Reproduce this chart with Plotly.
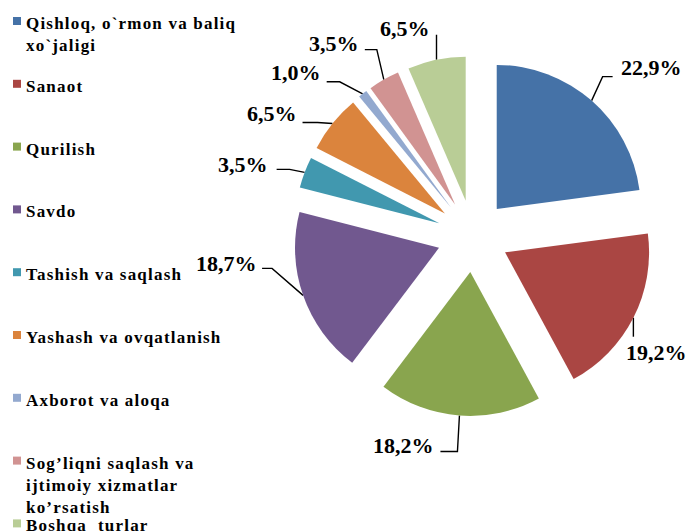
import numpy as np
import plotly.graph_objects as go

W, H = 691, 531
SERIF = "Liberation Serif, Times New Roman, serif"

# data
labels = ["Qishloq, o`rmon va baliq<br>xo`jaligi", "Sanaot", "Qurilish", "Savdo",
          "Tashish va saqlash", "Yashash va ovqatlanish", "Axborot va aloqa",
          "Sog’liqni saqlash va<br>ijtimoiy xizmatlar<br>ko’rsatish", "Boshqa  turlar"]
values = [22.9, 19.2, 18.2, 18.7, 3.5, 6.5, 1.0, 3.5, 6.5]
colors = ["#4572A7", "#AA4643", "#89A54E", "#71588F", "#4198AF",
          "#DB843D", "#93A9CF", "#D19392", "#B9CD96"]

# pie placement in pixels
cx, cy, R, pull = 473, 236, 144, 0.25

# label layout (px, relative to the slice edge): elbow, horizontal run, text centre
elbows = [(11, -24), (0, 19), (-2, 36), (-31, -27), (-15, -3), (-15, -1), (-23, -12), (-7, -30), (0, -25)]
runs = [10, 0, -17, -10, -13, -15, -13, -12, 0]
text_off = [(60, -33), (23, 35), (-56, 30), (-77, -32), (-62, -8), (-61, -10), (-67, -21), (-50, -36), (-32, -31)]

half = R * (1 + pull)
fig = go.Figure()
fig.add_trace(go.Pie(
    labels=[l.replace("<br>", " ") for l in labels], values=values, sort=False,
    direction="clockwise", rotation=0, pull=[pull] * len(values),
    marker=dict(colors=colors, line=dict(width=0)),
    textinfo="none", hoverinfo="label+percent", showlegend=False,
    domain=dict(x=[(cx - half) / W, (cx + half) / W],
                y=[(H - cy - half) / H, (H - cy + half) / H])))

# leader lines + value labels, from the slice mid angles
vals = np.array(values)
cum = np.cumsum(vals) - vals / 2
ang = np.radians(cum / vals.sum() * 360)
lx, ly = [], []
for i, a in enumerate(ang):
    x0 = cx + half * np.sin(a)
    y0 = cy - half * np.cos(a)
    ex, ey = x0 + elbows[i][0], y0 + elbows[i][1]
    lx += [x0, ex, ex + runs[i], None]
    ly += [y0, ey, ey, None]
    txt = f"{values[i]:.1f}".replace(".", ",") + "%"
    fig.add_annotation(x=x0 + text_off[i][0], y=y0 + text_off[i][1], xref="x", yref="y",
                       text=f"<b>{txt}</b>", showarrow=False,
                       font=dict(family=SERIF, size=22, color="black"))
fig.add_trace(go.Scatter(x=lx, y=ly, mode="lines", line=dict(color="black", width=1.4),
                         hoverinfo="skip", showlegend=False))

# hand-made legend with wide spacing
for i, (lab, col) in enumerate(zip(labels, colors)):
    top = 17 + i * 62.8
    fig.add_shape(type="rect", xref="x", yref="y", x0=13, x1=21, y0=top, y1=top + 8,
                  fillcolor=col, line=dict(width=0))
    fig.add_annotation(x=24, y=top - 5, xref="x", yref="y", xanchor="left", yanchor="top",
                       align="left", showarrow=False,
                       text=f"<span style='letter-spacing:1.2px'><b>{lab}</b></span>",
                       font=dict(family=SERIF, size=17, color="black"))

fig.update_xaxes(range=[0, W], visible=False, fixedrange=True)
fig.update_yaxes(range=[H, 0], visible=False, fixedrange=True)
fig.update_layout(width=W, height=H, margin=dict(l=0, r=0, t=0, b=0),
                  paper_bgcolor="white", plot_bgcolor="rgba(0,0,0,0)",
                  showlegend=False)

# page body has an 8px default margin; drop it so the chart sits at 0,0
fig.write_html("out.html", config={"displayModeBar": False},
               post_script="document.body.style.margin='0';")
